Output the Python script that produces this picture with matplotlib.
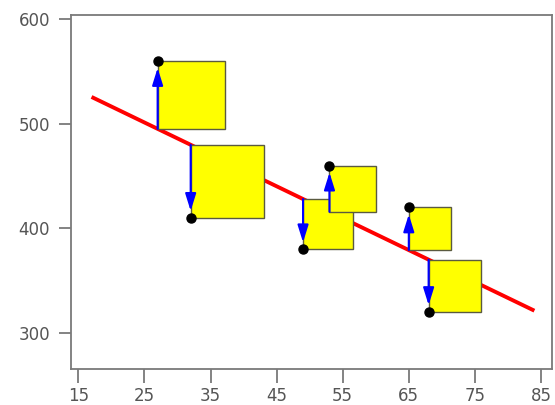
import matplotlib
matplotlib.use("Agg")
import matplotlib.pyplot as plt
from matplotlib.patches import Rectangle

# observed points
x_vals = [27, 32, 49, 53, 65, 68]
y_vals = [560, 410, 380, 460, 420, 320]

# fitted line y = intercept + slope * x
line_intercept = 577.5
line_slope = -3.05
line_x = [17, 84]

x_ticks = [15, 25, 35, 45, 55, 65, 75, 85]
y_ticks = [300, 400, 500, 600]

grey = "#7a7a7a"

fig = plt.figure(figsize=(5.55, 4.05), dpi=100)
ax = fig.add_axes([0.128, 0.089, 0.867, 0.874])
ax.set_xlim(13.9, 86.7)
ax.set_ylim(265.6, 604)

# red regression line
ax.plot(line_x, [line_intercept + line_slope * x for x in line_x],
        color="red", lw=2.8, zorder=1, solid_capstyle="butt")

# pixel scale so residual squares look square on screen
bbox = ax.get_window_extent()
px_x = bbox.width / (ax.get_xlim()[1] - ax.get_xlim()[0])
px_y = bbox.height / (ax.get_ylim()[1] - ax.get_ylim()[0])

for x, y in zip(x_vals, y_vals):
    yhat = line_intercept + line_slope * x
    r = y - yhat
    side_x = abs(r) * px_y / px_x
    ax.add_patch(Rectangle((x, min(y, yhat)), side_x, abs(r),
                           facecolor="#ffff00", edgecolor="#5a5a40",
                           lw=1.0, zorder=2))
    ax.annotate("", xy=(x, y), xytext=(x, yhat),
                arrowprops=dict(arrowstyle="-|>,head_length=0.8,head_width=0.25",
                                color="blue", lw=1.5, mutation_scale=13,
                                shrinkA=0, shrinkB=5),
                zorder=3)

ax.plot(x_vals, y_vals, "o", color="black", ms=6.5, zorder=4)

ax.set_xticks(x_ticks)
ax.set_yticks(y_ticks)
for s in ax.spines.values():
    s.set_color(grey)
    s.set_linewidth(1.3)
ax.tick_params(axis="both", colors=grey, width=1.3, labelcolor="#555555",
               labelsize=12)
ax.tick_params(axis="x", length=10, pad=3)
ax.tick_params(axis="y", length=9, pad=6)

fig.savefig("out.png", dpi=100)
